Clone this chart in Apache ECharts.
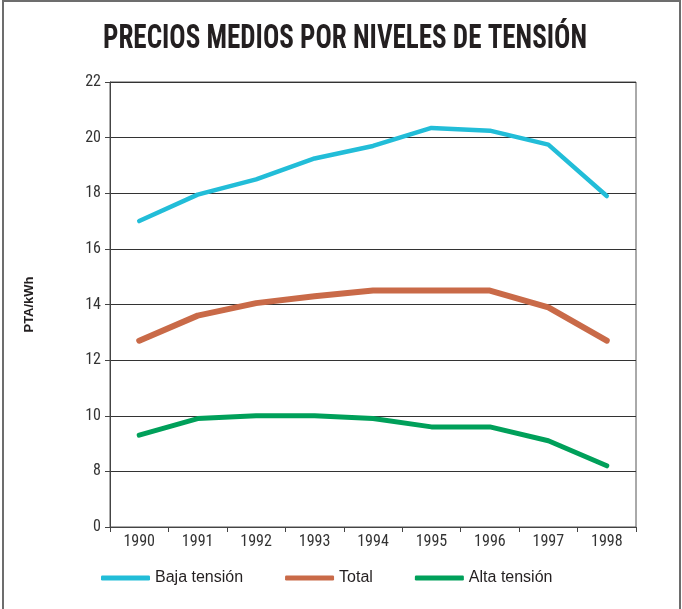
<!DOCTYPE html>
<html>
<head>
<meta charset="utf-8">
<script src="https://cdn.jsdelivr.net/npm/echarts@6/dist/echarts.min.js"></script>
<style>
  html, body { margin: 0; padding: 0; background: #fff; }
  #chart { width: 682px; height: 609px; }
</style>
</head>
<body>
<div id="chart"></div>
<script>
// Average electricity price by voltage level, PTA/kWh
const years = ['1990', '1991', '1992', '1993', '1994', '1995', '1996', '1997', '1998'];
const bajaTension = [17.0, 17.95, 18.5, 19.25, 19.7, 20.35, 20.25, 19.75, 17.9];
const total = [12.7, 13.6, 14.05, 14.3, 14.5, 14.5, 14.5, 13.9, 12.7];
const altaTension = [9.3, 9.9, 10.0, 10.0, 9.9, 9.6, 9.6, 9.1, 8.2];

// The value axis is cut below 8: the bottom tick stands for 0
const axisFloor = 6;
const axisTop = 22;
const axisStep = 2;

const narrow = '"Liberation Sans Narrow", "Roboto Condensed", "Arial Narrow", "Liberation Sans", sans-serif';

const chart = echarts.init(document.getElementById('chart'), null, { renderer: 'canvas' });

function lineSeries(name, data, color, width) {
  return {
    name: name,
    type: 'line',
    data: data,
    symbol: 'none',
    smooth: false,
    lineStyle: { color: color, width: width, cap: 'round', join: 'round' },
    itemStyle: { color: color },
    emphasis: { disabled: true },
    z: 3
  };
}

chart.setOption({
  animation: false,
  backgroundColor: '#fff',
  graphic: [{
    type: 'rect',
    shape: { x: 3, y: 1, width: 677, height: 620 },
    style: { fill: 'none', stroke: '#6d6d6d', lineWidth: 2 },
    silent: true
  }, {
    // heading, squeezed horizontally to a condensed look
    type: 'text',
    x: 345,
    y: 40,
    scaleX: 0.82,
    silent: true,
    style: {
      text: 'PRECIOS MEDIOS POR NIVELES DE TENSIÓN',
      align: 'center',
      verticalAlign: 'middle',
      fontFamily: narrow,
      fontWeight: 'bold',
      fontSize: 33,
      fill: '#231f20'
    }
  }],
  legend: {
    bottom: 18,
    left: 96,
    icon: 'roundRect',
    itemWidth: 49,
    itemHeight: 5,
    itemGap: 42,
    textStyle: { fontFamily: '"Liberation Sans", Arial, sans-serif', fontSize: 16, color: '#231f20' },
    data: ['Baja tensión', 'Total', 'Alta tensión']
  },
  grid: {
    left: 110,
    right: 46,
    top: 82,
    bottom: 82,
    show: true,
    borderColor: '#555',
    borderWidth: 1,
    containLabel: false
  },
  xAxis: {
    type: 'category',
    data: years,
    boundaryGap: true,
    axisLine: { lineStyle: { color: '#444', width: 1 } },
    axisTick: { show: true, interval: 0, length: 5, lineStyle: { color: '#444' } },
    axisLabel: { fontFamily: narrow, fontSize: 16, color: '#333', margin: 7 },
    splitLine: { show: false }
  },
  yAxis: {
    type: 'value',
    min: axisFloor,
    max: axisTop,
    interval: axisStep,
    name: 'PTA/kWh',
    nameLocation: 'middle',
    nameGap: 74,
    nameRotate: 90,
    nameTextStyle: { fontFamily: '"Liberation Sans", Arial, sans-serif', fontWeight: 'bold', fontSize: 13, color: '#231f20' },
    axisLine: { show: true, lineStyle: { color: '#444', width: 1 } },
    axisTick: { show: true, length: 5, lineStyle: { color: '#444' } },
    axisLabel: {
      fontFamily: narrow,
      fontSize: 16,
      color: '#333',
      margin: 9,
      formatter: function (v) { return v === axisFloor ? '0' : String(v); }
    },
    splitLine: { show: true, lineStyle: { color: '#333', width: 1 } }
  },
  series: [
    lineSeries('Baja tensión', bajaTension, '#22bdd8', 4.5),
    lineSeries('Total', total, '#c96a48', 6),
    lineSeries('Alta tensión', altaTension, '#00a05a', 5)
  ]
});
</script>
</body>
</html>
